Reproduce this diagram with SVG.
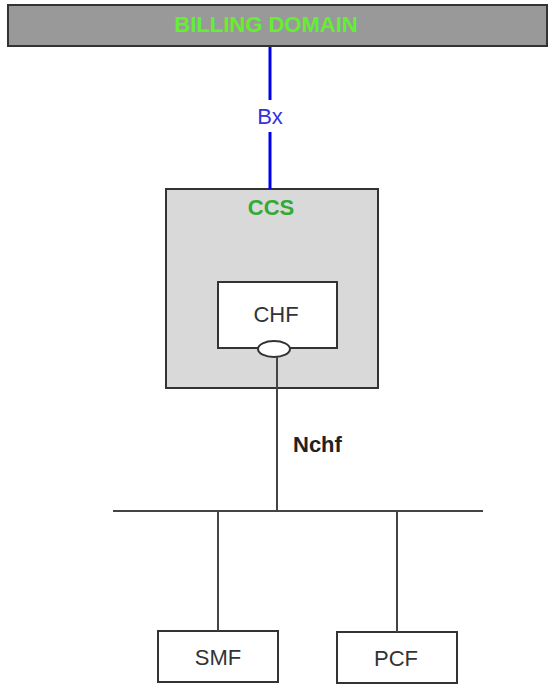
<svg xmlns="http://www.w3.org/2000/svg" width="554" height="685" viewBox="0 0 554 685">
<style>
.box{fill:#fff;stroke:#333;stroke-width:2}
.ln{stroke:#444;stroke-width:2;fill:none}
.t{font-family:"Liberation Sans",Arial,sans-serif;font-size:22px;fill:#333;text-anchor:middle}
</style>
<rect width="554" height="685" fill="#fff"/>
<g id="billing">
<rect x="8" y="5" width="539" height="41" fill="#999" stroke="#333" stroke-width="2"/>
<text class="t" x="266" y="32" style="fill:#66ee33;font-weight:bold">BILLING DOMAIN</text>
</g>
<g id="ccs">
<rect x="166" y="189" width="212" height="199" fill="#d9d9d9" stroke="#333" stroke-width="2"/>
<text class="t" x="271" y="215" style="fill:#33aa33;font-weight:bold">CCS</text>
</g>
<g id="chf">
<rect class="box" x="218" y="282" width="119" height="66"/>
<text class="t" x="276" y="322">CHF</text>
<ellipse cx="274" cy="349" rx="16" ry="8" fill="#fff" stroke="#333" stroke-width="2"/>
</g>
<g id="smf">
<rect class="box" x="158" y="631" width="120" height="51"/>
<text class="t" x="218" y="665">SMF</text>
</g>
<g id="pcf">
<rect class="box" x="337" y="632" width="120" height="51"/>
<text class="t" x="396" y="666">PCF</text>
</g>
<g id="connectors">
<line x1="270" y1="47" x2="270" y2="100" stroke="#0000ee" stroke-width="3"/>
<line x1="270" y1="132" x2="270" y2="189" stroke="#0000ee" stroke-width="3"/>
<text class="t" x="270" y="124" style="fill:#3333dd">Bx</text>
<line class="ln" x1="277" y1="357" x2="277" y2="511"/>
<text class="t" x="293" y="452" style="text-anchor:start;font-weight:bold;fill:#222">Nchf</text>
<line class="ln" x1="113" y1="511" x2="483" y2="511"/>
<line class="ln" x1="218" y1="511" x2="218" y2="631"/>
<line class="ln" x1="397" y1="511" x2="397" y2="632"/>
</g>
</svg>
